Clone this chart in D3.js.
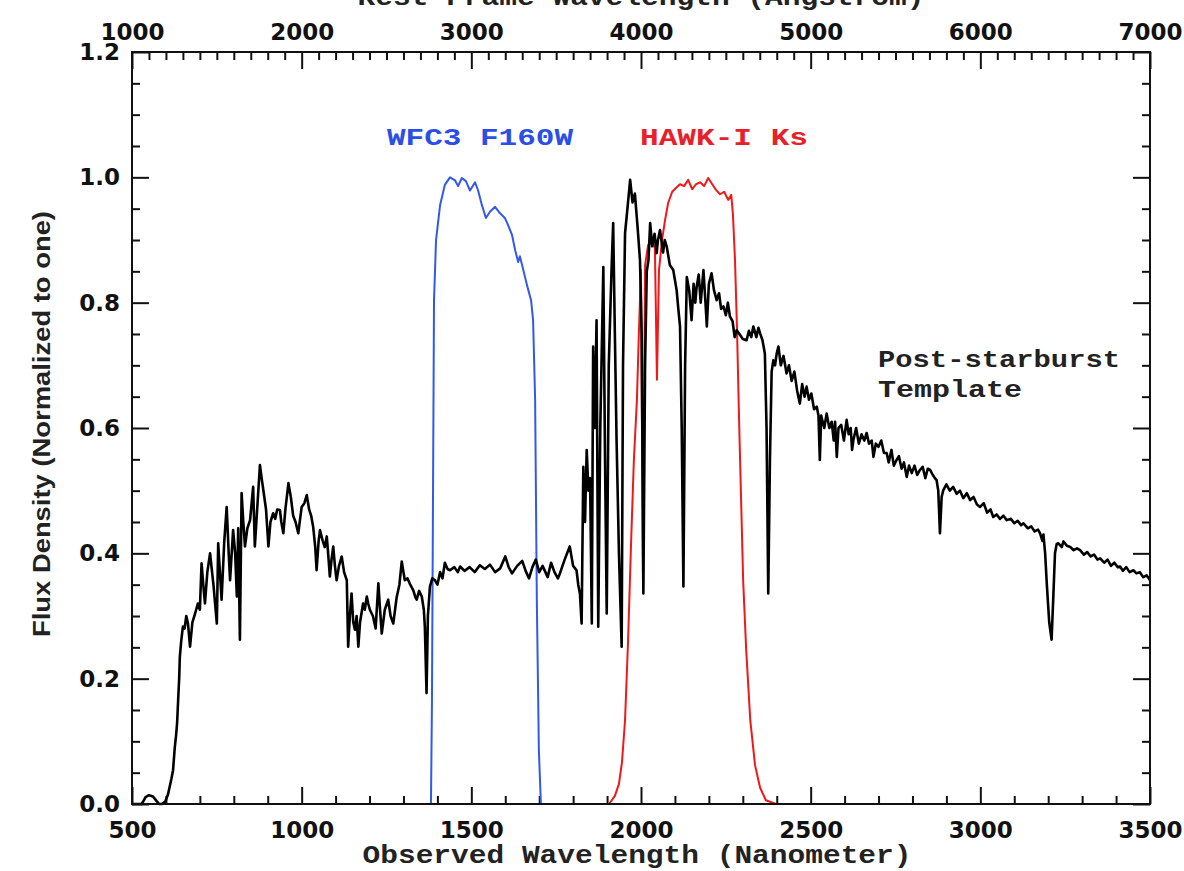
<!DOCTYPE html>
<html><head><meta charset="utf-8">
<script src="https://cdn.jsdelivr.net/npm/d3@7"></script>
<style>
html,body{margin:0;padding:0;background:#fff;}
svg{display:block;}
</style></head>
<body>
<svg id="chart" width="1184" height="871"></svg>
<script>
// ---------- DATA ----------
const xMajorTicks = [500, 1000, 1500, 2000, 2500, 3000, 3500];      // observed nm
const xTopMajorTicks = [1000, 2000, 3000, 4000, 5000, 6000, 7000];  // rest-frame Angstrom
const yMajorTicks = [0.0, 0.2, 0.4, 0.6, 0.8, 1.0, 1.2];
const xTitle = "Observed Wavelength (Nanometer)";
const xTopTitle = "Rest-Frame Wavelength (Angstrom)";
const yTitle = "Flux Density (Normalized to one)";
const filterLabels = ["WFC3 F160W", "HAWK-I Ks"];
const templateLabel = ["Post-starburst", "Template"];

// Post-starburst template spectrum: [observed nm, normalized flux]
const spectrum = [
[500,0],[528,0],[533,0.004],[540,0.011],[550,0.014],[562,0.012],[572,0.005],[580,0],[588,0],[598,0.004],[606,0.015],[612,0.03],[616,0.04],[621,0.054],[626,0.09],[630,0.11],[633,0.13],[636,0.166],[639,0.2],[641,0.235],[645,0.26],[650,0.283],[655,0.28],[660,0.3],[665,0.288],[671,0.251],[678,0.29],[686,0.304],[694,0.32],[700,0.31],[705,0.384],[710,0.35],[715,0.32],[722,0.37],[730,0.4],[740,0.35],[750,0.288],[754,0.416],[758,0.38],[764,0.326],[772,0.42],[779,0.474],[785,0.4],[789,0.357],[798,0.437],[804,0.4],[809,0.331],[813,0.44],[818,0.262],[823,0.496],[828,0.45],[833,0.411],[840,0.44],[848,0.453],[857,0.506],[862,0.411],[870,0.48],[877,0.541],[882,0.52],[887,0.501],[895,0.47],[902,0.411],[908,0.45],[916,0.464],[922,0.455],[928,0.47],[936,0.469],[940,0.45],[946,0.432],[952,0.47],[961,0.512],[968,0.49],[975,0.46],[982,0.45],[990,0.432],[1000,0.474],[1008,0.48],[1015,0.493],[1022,0.47],[1028,0.46],[1034,0.442],[1040,0.41],[1044,0.373],[1050,0.42],[1054,0.437],[1062,0.42],[1068,0.41],[1074,0.427],[1078,0.40],[1083,0.363],[1088,0.39],[1093,0.411],[1098,0.38],[1103,0.357],[1110,0.38],[1118,0.395],[1125,0.37],[1133,0.357],[1137,0.251],[1142,0.30],[1147,0.336],[1152,0.29],[1157,0.278],[1162,0.3],[1167,0.251],[1172,0.29],[1181,0.32],[1186,0.31],[1192,0.331],[1196,0.32],[1201,0.31],[1210,0.3],[1218,0.28],[1226,0.352],[1231,0.31],[1236,0.272],[1245,0.31],[1255,0.326],[1262,0.30],[1270,0.288],[1280,0.33],[1288,0.35],[1295,0.387],[1300,0.37],[1304,0.357],[1312,0.36],[1320,0.35],[1329,0.341],[1335,0.33],[1339,0.326],[1346,0.34],[1354,0.331],[1360,0.31],[1363,0.283],[1368,0.177],[1372,0.3],[1378,0.347],[1385,0.36],[1393,0.357],[1400,0.35],
[1408,0.37],[1415,0.36],[1422,0.385],[1430,0.375],[1437,0.373],[1450,0.378],[1460,0.37],[1467,0.379],[1480,0.372],[1495,0.378],[1510,0.37],[1525,0.381],[1540,0.375],[1555,0.382],[1570,0.37],[1585,0.376],[1600,0.395],[1610,0.378],[1620,0.368],[1635,0.38],[1650,0.388],[1660,0.372],[1670,0.36],[1680,0.378],[1690,0.39],[1700,0.37],[1710,0.38],[1725,0.362],[1735,0.385],[1745,0.37],[1755,0.36],[1761,0.368],[1775,0.39],[1790,0.411],[1800,0.38],[1810,0.373],[1815,0.35],[1820,0.336],[1825,0.288],
[1830,0.538],[1835,0.45],[1840,0.565],[1845,0.5],[1850,0.52],[1855,0.288],[1859,0.73],[1864,0.6],[1869,0.772],[1874,0.283],[1880,0.6],[1889,0.857],[1894,0.55],[1899,0.304],[1905,0.7],[1913,0.85],[1918,0.927],[1923,0.75],[1928,0.581],[1935,0.4],[1943,0.251],[1947,0.7],[1953,0.911],[1960,0.95],[1968,0.996],[1975,0.96],[1982,0.974],[1990,0.92],[1997,0.868],[2002,0.75],[2007,0.336],[2012,0.7],[2017,0.85],[2022,0.868],[2027,0.927],[2033,0.89],[2040,0.91],[2046,0.879],[2050,0.9],[2056,0.916],[2065,0.88],[2070,0.9],[2076,0.889],[2085,0.86],[2095,0.852],[2105,0.82],[2110,0.79],[2115,0.762],[2120,0.6],[2125,0.347],[2130,0.7],[2135,0.841],[2142,0.82],[2149,0.772],[2155,0.83],[2160,0.8],[2164,0.825],[2170,0.845],[2176,0.8],[2184,0.852],[2190,0.8],[2194,0.762],[2200,0.83],[2208,0.847],[2215,0.82],[2223,0.804],[2230,0.815],[2236,0.79],[2243,0.794],[2250,0.78],[2256,0.8],[2262,0.778],[2270,0.77],[2276,0.745],[2282,0.756],[2290,0.75],[2300,0.742],[2311,0.74],[2318,0.755],[2325,0.745],[2331,0.762],[2340,0.745],[2346,0.76],[2351,0.751],[2358,0.74],[2365,0.719],[2370,0.6],[2375,0.336],[2380,0.55],[2385,0.69],[2390,0.708],[2395,0.7],[2400,0.719],
[2405,0.73],[2412,0.70],[2420,0.715],[2429,0.687],[2436,0.70],[2444,0.675],[2452,0.69],[2460,0.66],[2468,0.639],[2475,0.67],[2482,0.65],[2488,0.666],[2495,0.645],[2502,0.655],[2510,0.63],[2518,0.634],[2523,0.62],[2527,0.549],[2531,0.62],[2540,0.60],[2547,0.623],[2555,0.6],[2562,0.61],[2568,0.58],[2572,0.61],[2577,0.554],[2582,0.6],[2590,0.605],[2598,0.58],[2606,0.613],[2612,0.59],[2618,0.60],[2622,0.565],[2626,0.581],[2634,0.6],[2642,0.575],[2650,0.59],[2658,0.58],[2665,0.592],[2672,0.575],[2680,0.58],[2685,0.554],[2692,0.575],[2700,0.57],[2708,0.58],[2716,0.56],[2724,0.56],[2730,0.545],[2738,0.565],[2745,0.54],[2753,0.549],[2760,0.555],[2768,0.535],[2775,0.545],[2783,0.522],[2790,0.54],[2798,0.528],[2806,0.54],[2814,0.525],[2822,0.533],[2830,0.538],[2838,0.52],[2845,0.535],[2852,0.533],[2860,0.525],[2866,0.52],[2871,0.517],[2876,0.5],[2881,0.432],[2886,0.49],[2891,0.501],[2900,0.51],[2910,0.5],[2920,0.506],[2930,0.495],[2940,0.5],[2950,0.488],[2960,0.496],[2970,0.485],[2980,0.49],[2990,0.478],[2999,0.474],[3010,0.48],[3020,0.465],[3030,0.47],[3038,0.458],[3048,0.462],[3058,0.455],[3068,0.46],[3078,0.453],[3090,0.455],[3100,0.448],[3110,0.452],[3120,0.445],[3127,0.448],[3140,0.44],[3150,0.443],[3160,0.435],[3170,0.438],[3176,0.432],[3183,0.42],[3186,0.43],[3191,0.4],[3196,0.35],[3203,0.29],[3210,0.262],[3215,0.33],[3220,0.4],[3225,0.415],[3230,0.416],[3240,0.41],[3245,0.419],[3255,0.412],[3265,0.41],[3275,0.405],[3285,0.408],[3294,0.405],[3305,0.398],[3315,0.402],[3325,0.395],[3335,0.398],[3345,0.39],[3353,0.392],[3365,0.385],[3375,0.39],[3385,0.38],[3395,0.385],[3405,0.378],[3412,0.379],[3420,0.372],[3430,0.378],[3440,0.37],[3451,0.373],[3460,0.368],[3470,0.37],[3480,0.362],[3490,0.365],[3500,0.357]
];

// WFC3 F160W filter transmission: [nm, normalized]
const f160w = [
[798,0],[1381,0],[1384,0.166],[1390,0.804],[1396,0.9],[1408,0.956],[1422,0.988],[1437,1.0],[1452,0.995],[1461,0.986],[1472,0.999],[1484,0.994],[1496,0.979],[1511,0.992],[1520,0.979],[1531,0.956],[1543,0.935],[1555,0.945],[1570,0.953],[1584,0.943],[1599,0.935],[1608,0.924],[1620,0.908],[1629,0.884],[1638,0.865],[1643,0.874],[1652,0.855],[1664,0.828],[1676,0.804],[1682,0.772],[1688,0.645],[1693,0.326],[1699,0.086],[1705,0],[1800,0]
];

// HAWK-I Ks filter transmission: [nm, normalized]
const hawkKs = [
[1906,0],[1923,0.013],[1935,0.032],[1944,0.067],[1953,0.134],[1962,0.262],[1971,0.421],[1979,0.549],[1988,0.645],[1994,0.756],[2000,0.852],[2006,0.341],[2012,0.86],[2021,0.892],[2033,0.897],[2041,0.887],[2047,0.677],[2053,0.852],[2062,0.9],[2071,0.932],[2080,0.959],[2092,0.977],[2103,0.983],[2115,0.989],[2127,0.986],[2139,0.996],[2151,0.981],[2162,0.989],[2174,0.992],[2186,0.986],[2198,0.999],[2210,0.989],[2221,0.98],[2233,0.973],[2245,0.977],[2257,0.964],[2266,0.972],[2271,0.94],[2277,0.868],[2283,0.756],[2289,0.613],[2295,0.485],[2301,0.357],[2310,0.246],[2322,0.134],[2336,0.062],[2351,0.026],[2368,0.006],[2398,0]
];

// ---------- LAYOUT ----------
const svg = d3.select("#chart");
const L = 132, R = 1150, T = 52, B = 804;
const x = d3.scaleLinear().domain([500, 3500]).range([L, R]);
const xTop = d3.scaleLinear().domain([1000, 7000]).range([L, R]);
const y = d3.scaleLinear().domain([0, 1.2]).range([B, T]);

const xMinor = d3.range(500, 3501, 100).filter(v => !xMajorTicks.includes(v));
const xTopMinor = d3.range(1000, 7001, 100).filter(v => !xTopMajorTicks.includes(v));
const yMinor = d3.range(0, 25).map(i => +(i * 0.05).toFixed(2)).filter(v => !yMajorTicks.some(m => Math.abs(m - v) < 1e-6));

const tickFont = "'DejaVu Sans', sans-serif";
const monoFont = "'Liberation Mono', 'DejaVu Sans Mono', monospace";

function styleAxis(g) {
  g.select(".domain").remove();
  g.selectAll(".tick line").attr("stroke", "#111").attr("stroke-width", 2);
  g.selectAll(".tick text").attr("fill", "#111").attr("font-family", tickFont)
    .attr("font-weight", "bold").attr("font-size", 23);
}

// bottom
svg.append("g").attr("transform", `translate(0,${B})`)
  .call(d3.axisBottom(x).tickValues(xMajorTicks).tickSize(-17).tickSizeOuter(0).tickPadding(18).tickFormat(d3.format("d")))
  .call(styleAxis);
svg.append("g").attr("transform", `translate(0,${B})`)
  .call(d3.axisBottom(x).tickValues(xMinor).tickSize(-8).tickSizeOuter(0).tickFormat(""))
  .call(styleAxis);
// top
svg.append("g").attr("transform", `translate(0,${T})`)
  .call(d3.axisTop(xTop).tickValues(xTopMajorTicks).tickSize(-17).tickSizeOuter(0).tickPadding(12).tickFormat(d3.format("d")))
  .call(styleAxis);
svg.append("g").attr("transform", `translate(0,${T})`)
  .call(d3.axisTop(xTop).tickValues(xTopMinor).tickSize(-8).tickSizeOuter(0).tickFormat(""))
  .call(styleAxis);
// left
svg.append("g").attr("transform", `translate(${L},0)`)
  .call(d3.axisLeft(y).tickValues(yMajorTicks).tickSize(-17).tickSizeOuter(0).tickPadding(12).tickFormat(d3.format(".1f")))
  .call(styleAxis);
svg.append("g").attr("transform", `translate(${L},0)`)
  .call(d3.axisLeft(y).tickValues(yMinor).tickSize(-8).tickSizeOuter(0).tickFormat(""))
  .call(styleAxis);
// right
svg.append("g").attr("transform", `translate(${R},0)`)
  .call(d3.axisRight(y).tickValues(yMajorTicks).tickSize(-17).tickSizeOuter(0).tickFormat(""))
  .call(styleAxis);
svg.append("g").attr("transform", `translate(${R},0)`)
  .call(d3.axisRight(y).tickValues(yMinor).tickSize(-8).tickSizeOuter(0).tickFormat(""))
  .call(styleAxis);

// ---------- CURVES ----------
const line = d3.line().x(d => x(d[0])).y(d => y(d[1]));
const plot = svg.append("g");
plot.append("path").datum(f160w).attr("d", line)
  .attr("fill", "none").attr("stroke", "#3358ec").attr("stroke-width", 2).attr("stroke-linejoin", "round");
plot.append("path").datum(hawkKs).attr("d", line)
  .attr("fill", "none").attr("stroke", "#f01818").attr("stroke-width", 2).attr("stroke-linejoin", "round");
plot.append("path").datum(spectrum).attr("d", line)
  .attr("fill", "none").attr("stroke", "#000").attr("stroke-width", 2.6).attr("stroke-linejoin", "round");

// frame
svg.append("rect").attr("x", L).attr("y", T).attr("width", R - L).attr("height", B - T)
  .attr("fill", "none").attr("stroke", "#111").attr("stroke-width", 2);

// ---------- TEXT ----------
function label(txt, xx, yy, len, size, color, anchor) {
  svg.append("text").attr("x", xx).attr("y", yy).text(txt)
    .attr("font-family", monoFont).attr("font-weight", "bold").attr("font-size", size)
    .attr("fill", color).attr("text-anchor", anchor || "start")
    .attr("textLength", len).attr("lengthAdjust", "spacingAndGlyphs");
}
label(xTitle, 637, 863, 549, 25, "#222", "middle");
label(xTopTitle, 641, 5, 567, 25, "#222", "middle");
label(filterLabels[0], 387, 145, 186, 23, "#2b4fe6");
label(filterLabels[1], 640, 145, 168, 23, "#e8202a");
label(templateLabel[0], 878, 367, 242, 23, "#222");
label(templateLabel[1], 878, 397, 144, 23, "#222");

svg.append("text")
  .attr("transform", `translate(50,424) rotate(-90)`)
  .attr("text-anchor", "middle")
  .attr("font-family", "'Liberation Sans Narrow', 'Liberation Sans', Arial, sans-serif")
  .attr("font-weight", "bold").attr("font-size", 23).attr("fill", "#222")
  .attr("textLength", 426).attr("lengthAdjust", "spacingAndGlyphs")
  .text(yTitle);
</script>
</body></html>
